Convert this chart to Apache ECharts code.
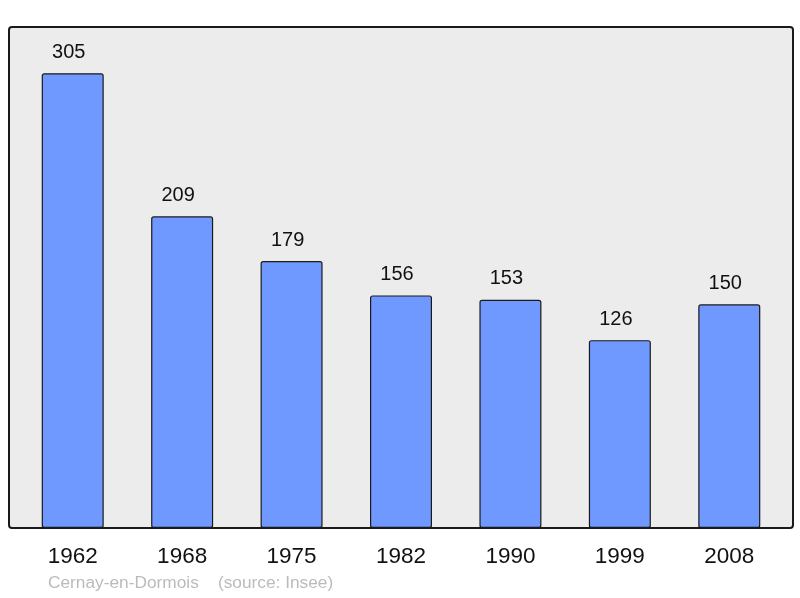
<!DOCTYPE html>
<html><head><meta charset="utf-8">
<script src="https://cdn.jsdelivr.net/npm/echarts@6/dist/echarts.min.js"></script>
<style>html,body{margin:0;padding:0;background:#fff}#c{width:800px;height:598px}</style>
</head><body><div id="c"></div>
<script>
const years = ['1962','1968','1975','1982','1990','1999','2008'];
const population = [305,209,179,156,153,126,150];
const footer = 'Cernay-en-Dormois    (source: Insee)';

const chart = echarts.init(document.getElementById('c'), null, {renderer:'canvas'});
chart.setOption({
  animation:false,
  textStyle:{fontFamily:'Liberation Sans, Arial, sans-serif'},
  graphic:[
    {type:'rect', z:-10, shape:{x:9,y:27,width:784,height:501,r:3},
     style:{fill:'#ececec', stroke:'#1a1a1a', lineWidth:2}},
    {type:'text', left:48, top:575, style:{text:footer, fill:'#bbbbbb', font:'17.3px Liberation Sans, Arial, sans-serif'}}
  ],
  grid:{left:18, width:766, top:27, bottom:70},
  xAxis:{type:'category', data:years,
    axisLine:{show:false}, axisTick:{show:false},
    axisLabel:{color:'#111', fontSize:22.5, margin:17}},
  yAxis:{type:'value', min:0, max:336, show:false, splitLine:{show:false}},
  series:[{type:'bar', data:population, barWidth:62,
    itemStyle:{color:'#7099ff', borderColor:'#1a1a1a', borderWidth:1.2, borderRadius:2},
    label:{show:true, position:'top', distance:11, offset:[-4,0], color:'#111', fontSize:20}}]
});
</script></body></html>
